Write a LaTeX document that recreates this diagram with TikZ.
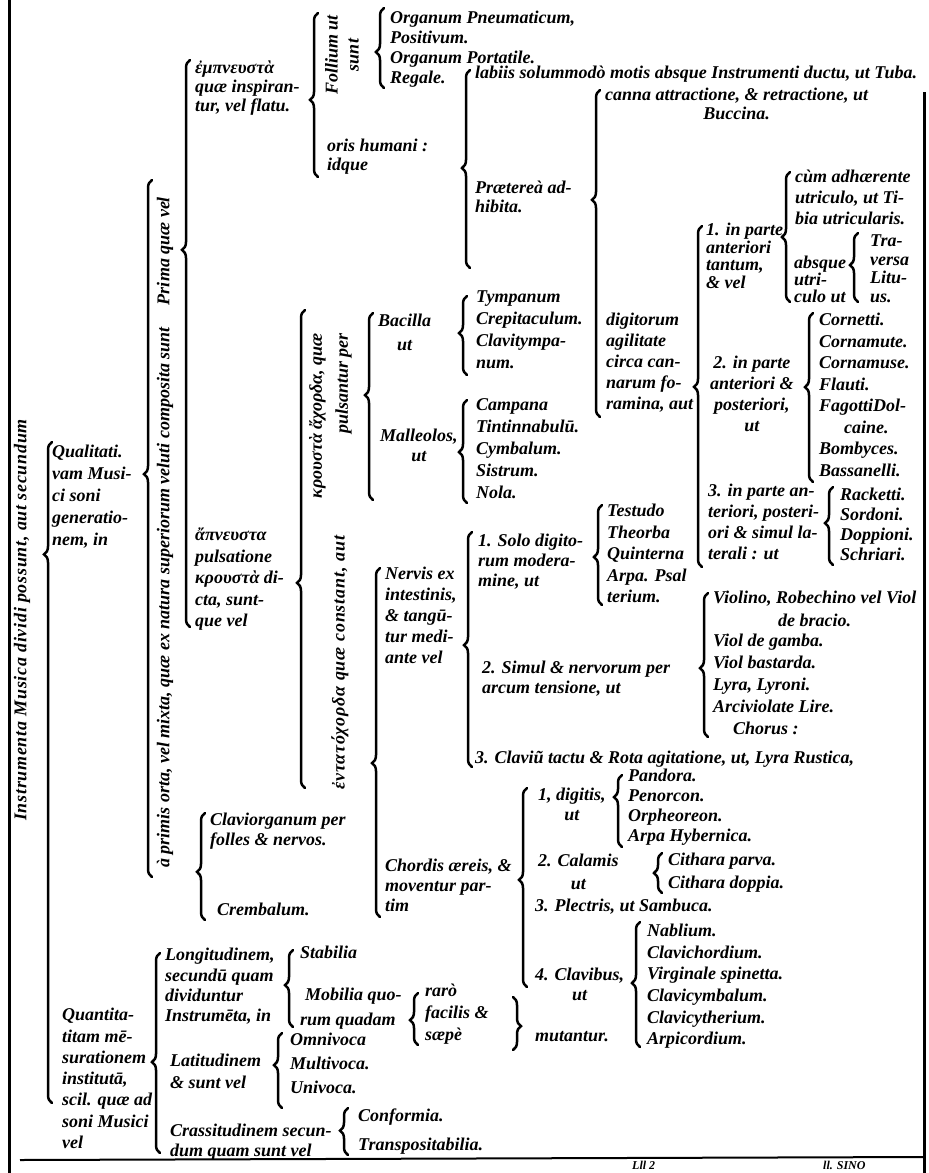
\documentclass[tikz,border=0pt]{standalone}
\usepackage{fontspec}
\setmainfont{Liberation Serif}
\usetikzlibrary{decorations.pathreplacing}
\newcommand{\ff}[1]{\fontsize{18}{#1}\selectfont\bfseries\itshape}
\begin{document}
\begin{tikzpicture}[x=1pt,y=-1pt]
\tikzstyle{txt} = [font=\ff{21}, inner sep=0pt, align=left, anchor=north west]
\tikzstyle{vtxt} = [font=\ff{24}, inner sep=0pt, rotate=90, align=center]
\tikzstyle{brc} = [line width=2.5pt, line cap=round, decorate, decoration={brace, amplitude=8pt}]
\useasboundingbox (0,0) rectangle (929,1173);
\clip (0,0) rectangle (929,1173);
% frame
\draw[line width=3pt] (9,0) -- (9,1173);
\draw[line width=3pt] (924,92) -- (924,1173);
\draw[line width=2pt] (20,1160) -- (924,1157);
% vertical headings
\node[vtxt, font=\ff{24}\addfontfeatures{LetterSpace=4}] (root) at (22,620) {Instrumenta Musica dividi possunt, aut secundum};
\node[vtxt] (prima) at (165,251) {Prima quæ vel};
\node[vtxt, anchor=west] (aprimis) at (165,868) {à primis orta, vel mixta, quæ ex natura superiorum veluti composita sunt};
\node[vtxt, font=\ff{21}] (follium) at (342,55) {Follium ut\\sunt};
\node[vtxt, anchor=north east, align=right, font=\ff{26}] (krousta) at (309,333) {κρουστὰ ἄχορδα, quæ\\pulsantur per};
\node[vtxt, anchor=west, font=\ff{24}\addfontfeatures{LetterSpace=5}] (entata) at (340,790) {ἐντατόχορδα quæ constant, aut};
% qualitas
\node[txt, font=\ff{22}] (qualit) at (52,445) {Qualitati.\\vam Musi-\\ci soni\\generatio-\\nem, in};
\node[txt, font=\ff{19}] (empneusta) at (195,61) {ἐμπνευστὰ\\quæ inspiran-\\tur, vel flatu.};
\node[txt, font=\ff{20}] (organa) at (390,11) {Organum Pneumaticum,\\Positivum.\\Organum Portatile.\\Regale.};
\node[txt, font=\ff{19}] (oris) at (327,139) {oris humani :\\idque};
\node[txt] (labiis) at (475,66) {labiis solummodò motis absque Instrumenti ductu, ut Tuba.};
\node[txt, font=\ff{19}] (praeterea) at (475,181) {Prætereà ad-\\hibita.};
\node[txt, font=\ff{19}, align=center] (canna) at (605,88) {canna attractione, \& retractione, ut\\Buccina.};
\node[txt] (digitorum) at (606,313) {digitorum\\agilitate\\circa can-\\narum fo-\\ramina, aut};
\node[txt, font=\ff{17.5}] (partI) at (706,223) {1. in parte\\anteriori\\tantum,\\\& vel};
\node[txt, font=\ff{21}] (cumutr) at (795,170) {cùm adhærente\\utriculo, ut Ti-\\bia utricularis.};
\node[txt, font=\ff{17}] (absque) at (794,256) {absque\\utri-\\culo ut};
\node[txt, font=\ff{18.5}] (traversa) at (870,235) {Tra-\\versa\\Litu-\\us.};
\node[txt, align=center] (partII) at (710,356) {2. in parte\\anteriori \&\\posteriori,\\ut};
\node[txt, font=\ff{21.5}] (cornetti) at (819,313) {Cornetti.\\Cornamute.\\Cornamuse.\\Flauti.\\FagottiDol-\\\hspace*{25pt}caine.\\Bombyces.\\Bassanelli.};
\node[txt] (partIII) at (708,484) {3. in parte an-\\teriori, posteri-\\ori \& simul la-\\terali : ut};
\node[txt, font=\ff{20}] (racketti) at (840,488) {Racketti.\\Sordoni.\\Doppioni.\\Schriari.};
% pulsatione
\node[txt, font=\ff{21.5}] (apneusta) at (195,528) {ἄπνευστα\\pulsatione\\κρουστὰ di-\\cta, sunt-\\que vel};
\node[txt, font=\ff{24}, align=center] (bacilla) at (378,314) {Bacilla\\ut};
\node[txt, font=\ff{20}, align=center] (malleolos) at (380,429) {Malleolos,\\ut};
\node[txt, font=\ff{22}] (tympana) at (476,291) {Tympanum\\Crepitaculum.\\Clavitympa-\\num.};
\node[txt, font=\ff{22}] (campanae) at (476,398) {Campana\\Tintinnabulū.\\Cymbalum.\\Sistrum.\\Nola.};
\node[txt] (nervis) at (385,567) {Nervis ex\\intestinis,\\\& tangū-\\tur medi-\\ante vel};
\node[txt, font=\ff{20}] (solo) at (478,534) {1. Solo digito-\\rum modera-\\mine, ut};
\node[txt, font=\ff{21.5}] (testudo) at (607,504) {Testudo\\Theorba\\Quinterna\\Arpa. Psal\\terium.};
\node[txt, font=\ff{20}] (simul) at (482,661) {2. Simul \& nervorum per\\arcum tensione, ut};
\node[txt, font=\ff{23}, align=center] (violino) at (713,591) {Violino, Robechino vel Viol\\de bracio.};
\node[txt, font=\ff{22}] (violae) at (713,634) {Viol de gamba.\\Viol bastarda.\\Lyra, Lyroni.\\Arciviolate Lire.};
\node[txt] (chorus) at (733,722) {Chorus :};
\node[txt] (clavium) at (475,751) {3. Claviũ tactu \& Rota agitatione, ut, Lyra Rustica,};
\node[txt, font=\ff{20}] (chordis) at (385,859) {Chordis æreis, \&\\moventur par-\\tim};
\node[txt, font=\ff{20}, align=center] (digitis) at (538,788) {1, digitis,\\ut};
\node[txt, font=\ff{20}] (pandora) at (628,769) {Pandora.\\Penorcon.\\Orpheoreon.\\Arpa Hybernica.};
\node[txt, font=\ff{23}, align=center] (calamis) at (538,854) {2. Calamis\\ut};
\node[txt, font=\ff{23}] (cithara) at (668,853) {Cithara parva.\\Cithara doppia.};
\node[txt] (plectris) at (535,899) {3. Plectris, ut Sambuca.};
\node[txt, font=\ff{20}, align=center] (clavibus) at (535,968) {4. Clavibus,\\ut};
\node[txt, font=\ff{21.6}] (nablium) at (647,924) {Nablium.\\Clavichordium.\\Virginale spinetta.\\Clavicymbalum.\\Clavicytherium.\\Arpicordium.};
\node[txt, font=\ff{20}] (claviorg) at (210,813) {Claviorganum per\\folles \& nervos.};
\node[txt] (crembalum) at (217,903) {Crembalum.};
% quantitas
\node[txt, font=\ff{21.3}] (quantit) at (62,1008) {Quantita-\\titam mē-\\surationem\\institutā,\\scil. quæ ad\\soni Musici\\vel};
\node[txt, font=\ff{20.3}] (longit) at (165,948) {Longitudinem,\\secundū quam\\dividuntur\\Instrumēta, in};
\node[txt] (stabilia) at (300,946) {Stabilia};
\node[txt, font=\ff{25}] (mobilia) at (305,988) {Mobilia quo-\\\hspace*{-5pt}rum quadam};
\node[txt, font=\ff{22}] (raro) at (425,984) {rarò\\facilis \&\\sæpè};
\node[txt] (mutantur) at (535,1031) {mutantur.};
\node[txt, font=\ff{22}] (latit) at (170,1054) {Latitudinem\\\& sunt vel};
\node[txt, font=\ff{24}] (omnivoca) at (290,1033) {Omnivoca\\Multivoca.\\Univoca.};
\node[txt, font=\ff{20}] (crassit) at (170,1124) {Crassitudinem secun-\\dum quam sunt vel};
\node[txt, font=\ff{29}] (conformia) at (358,1109) {Conformia.\\Transpositabilia.};
% signatures
\node[txt, font=\fontsize{12}{12}\selectfont\bfseries\itshape] (sigA) at (632,1161) {Lll 2};
\node[txt, font=\fontsize{12}{12}\selectfont\bfseries\itshape] (sigB) at (823,1161) {ll. SINO};
% braces
\draw[brc, decoration={aspect=0.83}] (52,1103) -- (52,442);
\draw[brc, decoration={aspect=0.578}] (152,877) -- (152,180);
\draw[brc, decoration={aspect=0.665}] (190,627) -- (190,60);
\draw[brc, decoration={aspect=0.449}] (205,920) -- (205,813);
\draw[brc, decoration={aspect=0.47}] (318,177) -- (318,13);
\draw[brc, decoration={aspect=0.45}] (384,88) -- (384,8);
\draw[brc, decoration={aspect=0.505}] (470,268) -- (470,70);
\draw[brc, decoration={aspect=0.664}] (600,417) -- (600,90);
\draw[brc, decoration={aspect=0.528}] (702,567) -- (702,226);
\draw[brc, decoration={aspect=0.5}] (790,302) -- (790,172);
\draw[brc, decoration={aspect=0.536}] (858,302) -- (858,233);
\draw[brc, decoration={aspect=0.562}] (813,482) -- (813,313);
\draw[brc, decoration={aspect=0.538}] (833,565) -- (833,487);
\draw[brc, decoration={aspect=0.429}] (305,788) -- (305,310);
\draw[brc, decoration={aspect=0.561}] (373,500) -- (373,313);
\draw[brc, decoration={aspect=0.53}] (467,375) -- (467,296);
\draw[brc, decoration={aspect=0.495}] (467,503) -- (467,400);
\draw[brc, decoration={aspect=0.441}] (380,917) -- (380,568);
\draw[brc, decoration={aspect=0.519}] (472,767) -- (472,532);
\draw[brc, decoration={aspect=0.48}] (602,605) -- (602,505);
\draw[brc, decoration={aspect=0.479}] (708,737) -- (708,593);
\draw[brc, decoration={aspect=0.538}] (527,987) -- (527,788);
\draw[brc, decoration={aspect=0.694}] (622,847) -- (622,775);
\draw[brc, decoration={aspect=0.5}] (662,893) -- (662,853);
\draw[brc, decoration={aspect=0.512}] (640,1047) -- (640,922);
\draw[brc, decoration={aspect=0.455}] (160,1153) -- (160,953);
\draw[brc, decoration={aspect=0.545}] (293,1027) -- (293,950);
\draw[brc, decoration={aspect=0.48}] (418,1045) -- (418,993);
\draw[brc, decoration={aspect=0.55}] (513,997) -- (513,1050);
\draw[brc, decoration={aspect=0.573}] (282,1108) -- (282,1033);
\draw[brc, decoration={aspect=0.52}] (348,1155) -- (348,1108);
\end{tikzpicture}
\end{document}
